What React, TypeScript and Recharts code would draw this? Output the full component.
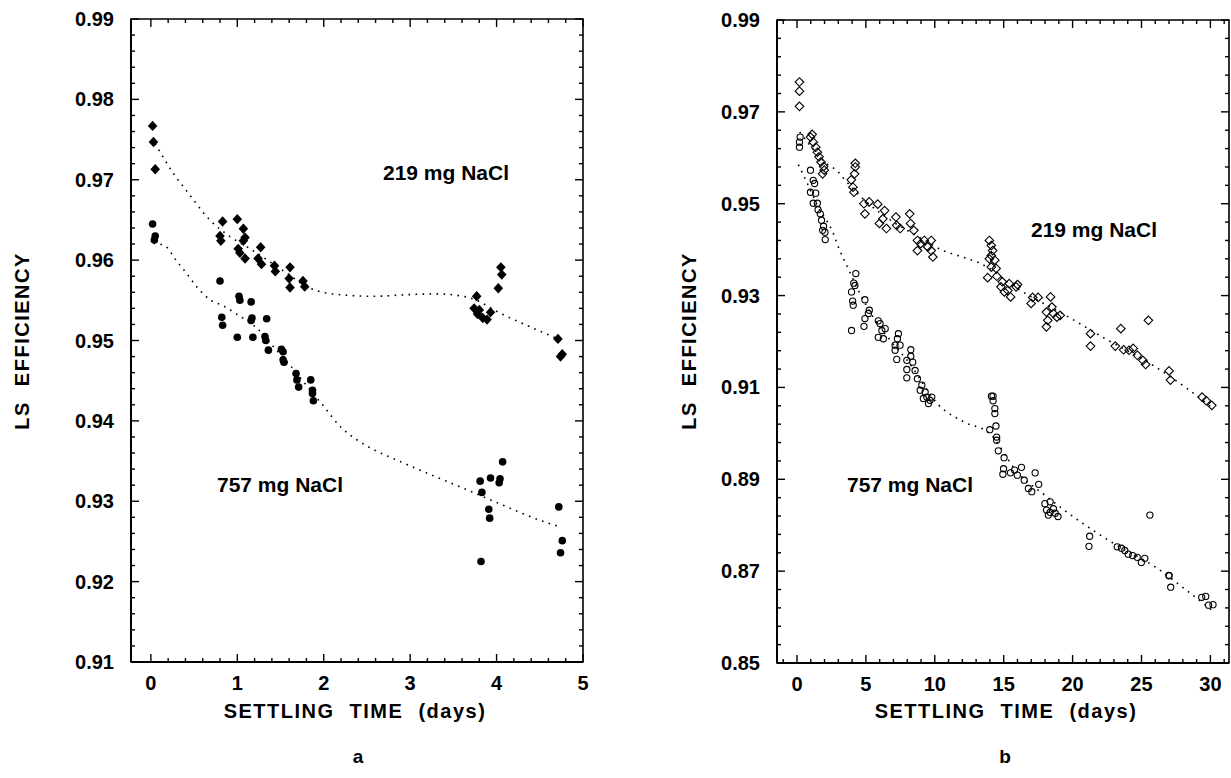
import React from 'react';
import {
  ComposedChart,
  Scatter,
  Line,
  XAxis,
  YAxis,
  ReferenceArea,
} from 'recharts';

// panel a: settling time (days), LS efficiency
const a219: [number, number][] = [
  [0.02, 0.9767], [0.03, 0.9747], [0.05, 0.9713],
  [0.8, 0.963], [0.81, 0.9624], [0.83, 0.9648],
  [1.0, 0.9651], [1.07, 0.9639], [1.09, 0.9628], [1.07, 0.9624], [1.01, 0.9614], [1.03, 0.9609], [1.09, 0.9602],
  [1.27, 0.9616], [1.24, 0.9602], [1.28, 0.9595],
  [1.43, 0.9593], [1.44, 0.9586],
  [1.61, 0.9591], [1.6, 0.9577], [1.61, 0.9566],
  [1.76, 0.9574], [1.78, 0.9567],
  [3.77, 0.9555], [3.74, 0.954], [3.8, 0.9538], [3.78, 0.9533], [3.84, 0.9528], [3.89, 0.9526], [3.93, 0.9535],
  [4.05, 0.9591], [4.06, 0.9582], [4.02, 0.9565],
  [4.71, 0.9502], [4.74, 0.948], [4.76, 0.9483],
];

const a757: [number, number][] = [
  [0.02, 0.9645], [0.05, 0.963], [0.04, 0.9625],
  [0.8, 0.9574], [0.82, 0.9529], [0.83, 0.9519],
  [1.02, 0.9555], [1.03, 0.955], [1.16, 0.9548], [1.0, 0.9504],
  [1.16, 0.9525], [1.17, 0.9528], [1.18, 0.9504],
  [1.34, 0.9527], [1.32, 0.9505], [1.33, 0.95], [1.36, 0.9488],
  [1.51, 0.9489], [1.53, 0.9486], [1.53, 0.9476], [1.54, 0.9473],
  [1.68, 0.9459], [1.69, 0.9451], [1.71, 0.9442],
  [1.85, 0.9451], [1.87, 0.9438], [1.87, 0.9434], [1.88, 0.9425],
  [4.07, 0.9349], [3.81, 0.9325], [3.93, 0.9329], [4.04, 0.9328], [4.03, 0.9323], [3.83, 0.9311],
  [3.91, 0.929], [3.92, 0.9279], [3.82, 0.9225],
  [4.72, 0.9293], [4.76, 0.9251], [4.74, 0.9236],
];

const aFit219: [number, number][] = [
  [0.05, 0.9745], [0.26, 0.9708], [0.43, 0.9684], [0.69, 0.9649], [0.92, 0.9629], [1.15, 0.9614],
  [1.57, 0.9584], [1.84, 0.9565], [2.19, 0.9557], [2.58, 0.9555], [2.97, 0.9557], [3.3, 0.9558],
  [3.66, 0.9554], [4.08, 0.9532], [4.71, 0.9502],
];

const aFit757: [number, number][] = [
  [0.03, 0.9621], [0.16, 0.9618], [0.29, 0.96], [0.41, 0.9584], [0.53, 0.9567], [0.68, 0.9551],
  [0.84, 0.9543], [0.99, 0.9533], [1.23, 0.9515], [1.42, 0.9492], [1.62, 0.9468], [1.81, 0.9443],
  [2.0, 0.9418], [2.19, 0.9393], [2.39, 0.9376], [2.6, 0.9363], [2.85, 0.9351], [3.24, 0.9333],
  [3.62, 0.9316], [4.01, 0.9298], [4.59, 0.9273], [4.71, 0.9269],
];

// panel b
const b219: [number, number][] = [
  [0.18, 0.9765], [0.18, 0.9745], [0.18, 0.9712],
  [1.1, 0.9651], [0.98, 0.9645], [1.18, 0.9634], [1.36, 0.9623], [1.48, 0.9612], [1.6, 0.9602],
  [1.74, 0.9591], [1.93, 0.9581], [1.98, 0.9573], [1.86, 0.9565],
  [4.23, 0.9588], [4.23, 0.958], [4.18, 0.9565], [3.94, 0.9552], [4.06, 0.9536], [4.13, 0.9525],
  [4.86, 0.95], [5.24, 0.9504], [4.93, 0.9478], [5.86, 0.9499], [5.98, 0.9457], [6.36, 0.9485],
  [6.49, 0.9446], [6.23, 0.9467],
  [7.18, 0.9471], [7.23, 0.9453], [7.49, 0.9446], [8.18, 0.9478], [8.24, 0.9457], [8.48, 0.9442],
  [8.74, 0.942], [8.98, 0.9413], [9.24, 0.942], [9.49, 0.9406], [9.74, 0.942], [9.86, 0.9384],
  [9.74, 0.9398], [8.74, 0.9398],
  [13.96, 0.942], [14.1, 0.9409], [14.2, 0.9398], [14.1, 0.9387], [14.35, 0.9377], [13.96, 0.938],
  [14.1, 0.9362], [14.45, 0.9359], [13.84, 0.9339], [14.5, 0.9342], [14.9, 0.933], [14.8, 0.9319],
  [15.4, 0.9326], [15.3, 0.9311], [15.05, 0.9308], [15.5, 0.9297], [16.0, 0.9324], [15.9, 0.9319],
  [17.1, 0.9296], [16.99, 0.9283], [17.5, 0.9296], [18.4, 0.9297], [18.5, 0.9275], [18.1, 0.9264],
  [18.6, 0.9261], [18.86, 0.9253], [18.2, 0.9246], [18.1, 0.9232], [19.1, 0.9257],
  [21.3, 0.9217], [21.3, 0.919], [23.5, 0.9228], [25.5, 0.9246], [23.1, 0.919], [23.7, 0.9182],
  [24.1, 0.9181], [24.4, 0.9185], [24.7, 0.917], [25.1, 0.9159], [25.3, 0.915],
  [27.0, 0.9136], [27.1, 0.9116], [29.4, 0.9079], [29.7, 0.9071], [30.1, 0.9061],
];

const b757: [number, number][] = [
  [0.23, 0.9645], [0.18, 0.9634], [0.18, 0.9623],
  [0.98, 0.9573], [1.18, 0.9551], [1.28, 0.9544], [0.98, 0.9525], [1.36, 0.9523], [1.18, 0.9501],
  [1.48, 0.9501], [1.53, 0.9487], [1.69, 0.9478], [1.78, 0.9464], [1.93, 0.9451], [2.03, 0.9438],
  [2.05, 0.9422], [1.86, 0.9442],
  [4.27, 0.9348], [4.12, 0.9327], [4.2, 0.9322], [3.96, 0.9308], [4.04, 0.9288], [4.08, 0.9279],
  [4.93, 0.9291], [5.25, 0.9268], [5.18, 0.9261], [4.93, 0.925], [4.86, 0.9233], [3.96, 0.9224],
  [5.9, 0.9245], [6.03, 0.9239], [6.16, 0.9224], [6.4, 0.9228], [5.9, 0.9209], [6.27, 0.9206],
  [7.36, 0.9217], [7.29, 0.9206], [7.12, 0.9192], [7.12, 0.9181], [7.48, 0.9192], [7.24, 0.9161],
  [8.26, 0.9182], [8.26, 0.9168], [7.97, 0.9159], [8.4, 0.9155], [7.97, 0.9139], [8.57, 0.9137],
  [7.97, 0.9121], [8.74, 0.9119], [9.06, 0.9105], [8.94, 0.9094], [9.3, 0.909], [9.42, 0.9079],
  [9.66, 0.9072], [9.54, 0.9065], [9.17, 0.9076], [9.78, 0.9079],
  [14.11, 0.9081], [14.23, 0.9081], [14.23, 0.9071], [14.36, 0.9054], [14.36, 0.9043], [14.44, 0.9016],
  [13.99, 0.9008], [14.49, 0.8992], [14.49, 0.8985], [14.61, 0.8962], [15.03, 0.8947], [14.99, 0.8923],
  [14.94, 0.8911], [15.49, 0.8914], [15.79, 0.892], [15.99, 0.8909], [16.29, 0.8926], [16.49, 0.8898],
  [16.79, 0.888], [17.04, 0.8873], [17.28, 0.8914], [17.54, 0.8889],
  [17.99, 0.8847], [18.37, 0.8851], [18.11, 0.8833], [18.24, 0.8822], [18.61, 0.8836], [18.74, 0.8826],
  [18.94, 0.8819], [18.37, 0.8828],
  [21.24, 0.8776], [21.19, 0.8754],
  [23.24, 0.8753], [23.55, 0.875], [23.79, 0.8745], [24.04, 0.8737], [24.36, 0.8734], [24.69, 0.873],
  [24.99, 0.8719], [25.24, 0.8728], [25.61, 0.8822],
  [26.99, 0.8691], [27.0, 0.869], [27.12, 0.8665],
  [29.37, 0.8643], [29.66, 0.8645], [29.87, 0.8626], [30.19, 0.8627],
];

const bFit219: [number, number][] = [
  [0.2, 0.9656], [1, 0.9625], [2, 0.9591], [3, 0.9569], [3.5, 0.9551], [5, 0.9505], [7, 0.946],
  [9, 0.9425], [10.6, 0.9398], [12, 0.9384], [13.3, 0.937], [16, 0.9315], [19.5, 0.9257],
  [22.2, 0.9209], [26, 0.9145], [28.2, 0.91], [30.2, 0.9054],
];

const bFit757: [number, number][] = [
  [0.1, 0.9585], [0.6, 0.9554], [1.5, 0.9495], [2.64, 0.9435], [3.0, 0.9406], [3.6, 0.9366],
  [4.58, 0.9304], [5.3, 0.9264], [6.75, 0.9203], [8, 0.9159], [10.3, 0.9061], [12.1, 0.9025],
  [14, 0.8999], [16, 0.8915], [18, 0.8865], [19.7, 0.8826], [23, 0.876], [26, 0.8709],
  [28.2, 0.866], [30.1, 0.8615],
];

// axis ticks
const aXMajor = [0, 1, 2, 3, 4, 5];
const aYMajor = [0.91, 0.92, 0.93, 0.94, 0.95, 0.96, 0.97, 0.98, 0.99];
const bXMajor = [0, 5, 10, 15, 20, 25, 30];
const bYMajor = [0.85, 0.87, 0.89, 0.91, 0.93, 0.95, 0.97, 0.99];

const steps = (from: number, to: number, step: number) => {
  const out: number[] = [];
  const n = Math.round((to - from) / step);
  for (let i = 0; i <= n; i++) out.push(Math.round((from + i * step) * 10000) / 10000);
  return out;
};

const FONT = '"Liberation Sans", Arial, Helvetica, sans-serif';
const PLOT_W = 452;
const PLOT_H = 643;

const toPts = (arr: [number, number][]) => arr.map(([x, y]) => ({ x, y }));
const isIn = (list: number[], v: number) => list.some((m) => Math.abs(m - v) < 1e-6);

const xTick = (majors: number[]) => (props: any) => {
  const { x, y, payload } = props;
  const major = isIn(majors, payload.value);
  const len = major ? 8 : 4;
  return (
    <g>
      <line x1={x} y1={y} x2={x} y2={y - len} stroke="#000" strokeWidth={1.4} />
      <line x1={x} y1={y - PLOT_H} x2={x} y2={y - PLOT_H + len} stroke="#000" strokeWidth={1.4} />
      {major && (
        <text x={x} y={y + 28} textAnchor="middle" fontFamily={FONT} fontWeight={700} fontSize={20} fill="#000">
          {Math.round(payload.value)}
        </text>
      )}
    </g>
  );
};

const yTick = (majors: number[]) => (props: any) => {
  const { x, y, payload } = props;
  const major = isIn(majors, payload.value);
  const len = major ? 8 : 4;
  return (
    <g>
      <line x1={x} y1={y} x2={x + len} y2={y} stroke="#000" strokeWidth={1.4} />
      <line x1={x + PLOT_W} y1={y} x2={x + PLOT_W - len} y2={y} stroke="#000" strokeWidth={1.4} />
      {major && (
        <text x={x - 17} y={y + 7} textAnchor="end" fontFamily={FONT} fontWeight={700} fontSize={20} fill="#000">
          {payload.value.toFixed(2)}
        </text>
      )}
    </g>
  );
};

const FilledDiamond = (p: any) => (
  <path d={`M${p.cx},${p.cy - 5.2}L${p.cx + 4.8},${p.cy}L${p.cx},${p.cy + 5.2}L${p.cx - 4.8},${p.cy}Z`} fill="#000" />
);
const FilledCircle = (p: any) => <circle cx={p.cx} cy={p.cy} r={3.8} fill="#000" />;
const OpenDiamond = (p: any) => (
  <path
    d={`M${p.cx},${p.cy - 4.3}L${p.cx + 4.3},${p.cy}L${p.cx},${p.cy + 4.3}L${p.cx - 4.3},${p.cy}Z`}
    fill="none"
    stroke="#000"
    strokeWidth={1.1}
  />
);
const OpenCircle = (p: any) => <circle cx={p.cx} cy={p.cy} r={3.1} fill="none" stroke="#000" strokeWidth={1.1} />;

interface PanelProps {
  left: number;
  top: number;
  xDomain: [number, number];
  yDomain: [number, number];
  xTicks: number[];
  yTicks: number[];
  xMajor: number[];
  yMajor: number[];
  s219: [number, number][];
  s757: [number, number][];
  f219: [number, number][];
  f757: [number, number][];
  open?: boolean;
}

const Panel: React.FC<PanelProps> = (p) => {
  const fit = { stroke: '#000', strokeWidth: 1.6, strokeDasharray: '1.6 5.4', dot: false, isAnimationActive: false };
  return (
    <ComposedChart
      width={p.left + PLOT_W + 20}
      height={p.top + PLOT_H + 40}
      margin={{ top: p.top, left: p.left - 60, right: 20, bottom: 10 }}
    >
      <XAxis
        dataKey="x"
        type="number"
        domain={p.xDomain}
        allowDataOverflow
        ticks={p.xTicks}
        interval={0}
        tickSize={0}
        tickMargin={0}
        height={30}
        axisLine={{ stroke: '#000', strokeWidth: 2 }}
        tickLine={false}
        tick={xTick(p.xMajor)}
      />
      <YAxis
        dataKey="y"
        type="number"
        domain={p.yDomain}
        allowDataOverflow
        ticks={p.yTicks}
        interval={0}
        tickSize={0}
        tickMargin={0}
        width={60}
        axisLine={{ stroke: '#000', strokeWidth: 2 }}
        tickLine={false}
        tick={yTick(p.yMajor)}
      />
      <ReferenceArea
        x1={p.xDomain[0]}
        x2={p.xDomain[1]}
        y1={p.yDomain[0]}
        y2={p.yDomain[1]}
        fill="none"
        stroke="#000"
        strokeWidth={1.6}
        ifOverflow="visible"
      />
      <Line data={toPts(p.f219)} dataKey="y" type="monotone" {...fit} />
      <Line data={toPts(p.f757)} dataKey="y" type="monotone" {...fit} />
      <Scatter data={toPts(p.s219)} dataKey="y" shape={p.open ? OpenDiamond : FilledDiamond} isAnimationActive={false} />
      <Scatter data={toPts(p.s757)} dataKey="y" shape={p.open ? OpenCircle : FilledCircle} isAnimationActive={false} />
    </ComposedChart>
  );
};

const txt = { fontFamily: FONT, fontWeight: 700, fill: '#000' } as const;

export default function App() {
  return (
    <div style={{ position: 'absolute', left: 0, top: 0, width: 1231, height: 778, background: '#fff' }}>
      <div style={{ position: 'absolute', left: 0, top: 0 }}>
        <Panel
          left={131}
          top={19}
          xDomain={[-0.23, 5]}
          yDomain={[0.91, 0.99]}
          xTicks={steps(0, 5, 0.2)}
          yTicks={steps(0.91, 0.99, 0.002)}
          xMajor={aXMajor}
          yMajor={aYMajor}
          s219={a219}
          s757={a757}
          f219={aFit219}
          f757={aFit757}
        />
      </div>
      <div style={{ position: 'absolute', left: 640, top: 0 }}>
        <Panel
          left={137}
          top={20}
          xDomain={[-1.45, 31.35]}
          yDomain={[0.85, 0.99]}
          xTicks={steps(-1, 31, 1)}
          yTicks={steps(0.85, 0.99, 0.004)}
          xMajor={bXMajor}
          yMajor={bYMajor}
          s219={b219}
          s757={b757}
          f219={bFit219}
          f757={bFit757}
          open
        />
      </div>
      <svg width={1231} height={778} style={{ position: 'absolute', left: 0, top: 0, pointerEvents: 'none' }}>
        <text {...txt} x={29} y={341} fontSize={20} textAnchor="middle" letterSpacing={1.5} wordSpacing={8} transform="rotate(-90 29 341)">
          LS EFFICIENCY
        </text>
        <text {...txt} x={696} y={341} fontSize={20} textAnchor="middle" letterSpacing={1.5} wordSpacing={8} transform="rotate(-90 696 341)">
          LS EFFICIENCY
        </text>
        <text {...txt} x={355} y={718} fontSize={20} textAnchor="middle" letterSpacing={1.5} wordSpacing={8}>
          SETTLING TIME (days)
        </text>
        <text {...txt} x={1006} y={718} fontSize={20} textAnchor="middle" letterSpacing={1.5} wordSpacing={8}>
          SETTLING TIME (days)
        </text>
        <text {...txt} x={358} y={763} fontSize={19} textAnchor="middle">a</text>
        <text {...txt} x={1005} y={763} fontSize={19} textAnchor="middle">b</text>
        <text {...txt} x={383} y={180} fontSize={21}>219 mg NaCl</text>
        <text {...txt} x={217} y={492} fontSize={21}>757 mg NaCl</text>
        <text {...txt} x={1031} y={237} fontSize={21}>219 mg NaCl</text>
        <text {...txt} x={847} y={492} fontSize={21}>757 mg NaCl</text>
      </svg>
    </div>
  );
}
